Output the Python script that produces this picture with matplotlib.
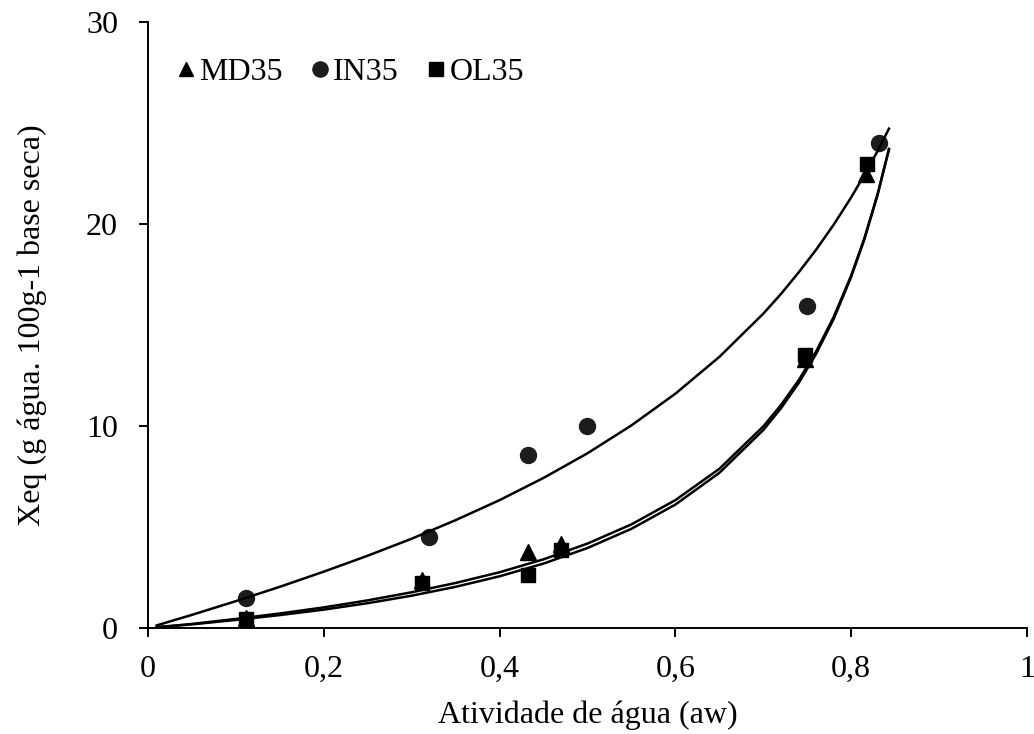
import numpy as np
import matplotlib.pyplot as plt

plt.rcParams['font.family'] = ['Liberation Serif', 'DejaVu Serif']

# ---- Experimental points ----
aw_md = [0.112, 0.312, 0.432, 0.470, 0.747, 0.817]
xeq_md = [0.50, 2.40, 3.75, 4.15, 13.30, 22.50]

aw_in = [0.112, 0.320, 0.432, 0.500, 0.750, 0.832]
xeq_in = [1.50, 4.50, 8.55, 10.00, 15.95, 24.00]

aw_ol = [0.112, 0.312, 0.432, 0.470, 0.747, 0.818]
xeq_ol = [0.45, 2.22, 2.63, 3.84, 13.50, 22.95]

# ---- Fitted curves ----
curve_aw = [0.01, 0.05, 0.10, 0.15, 0.20, 0.25, 0.30, 0.35, 0.40, 0.45, 0.50,
            0.55, 0.60, 0.65, 0.70, 0.72, 0.74, 0.76, 0.78, 0.80, 0.815, 0.83, 0.843]
curve_in = [0.13, 0.65, 1.33, 2.04, 2.79, 3.58, 4.42, 5.34, 6.33, 7.43, 8.65,
            10.03, 11.60, 13.42, 15.56, 16.53, 17.59, 18.72, 19.96, 21.32, 22.43, 23.61, 24.72]
curve_md = [0.04, 0.20, 0.45, 0.72, 1.02, 1.37, 1.77, 2.23, 2.76, 3.40, 4.18,
            5.13, 6.33, 7.88, 9.98, 11.03, 12.25, 13.68, 15.39, 17.45, 19.29, 21.46, 23.71]
curve_ol = [0.035, 0.18, 0.40, 0.64, 0.91, 1.23, 1.60, 2.04, 2.56, 3.19, 3.96,
            4.91, 6.11, 7.68, 9.80, 10.87, 12.11, 13.56, 15.29, 17.38, 19.24, 21.44, 23.71]

# ---- Plotting ----
fig = plt.figure(figsize=(10.34, 7.34), dpi=100)
ax = fig.add_axes([0.1431, 0.1444, 0.8501, 0.8256])

ax.plot(aw_md, xeq_md, '^', color='black', ms=11, label='MD35', zorder=2)
ax.plot(aw_in, xeq_in, 'o', color='#1c1c1c', ms=11.5, label='IN35', zorder=2)
ax.plot(aw_ol, xeq_ol, 's', color='black', ms=10, label='OL35', zorder=2)

ax.plot(curve_aw, curve_in, color='black', lw=1.8, zorder=3)
ax.plot(curve_aw, curve_md, color='black', lw=1.8, zorder=3)
ax.plot(curve_aw, curve_ol, color='black', lw=1.8, zorder=3)

ax.set_xlim(0, 1)
ax.set_ylim(0, 30)
ax.set_xticks([0, 0.2, 0.4, 0.6, 0.8, 1.0])
ax.set_xticklabels(['0', '0,2', '0,4', '0,6', '0,8', '1'])
ax.set_yticks([0, 10, 20, 30])

for s in ['top', 'right']:
    ax.spines[s].set_visible(False)
for s in ['left', 'bottom']:
    ax.spines[s].set_linewidth(1.4)
ax.tick_params(axis='both', direction='out', length=6.5, width=1.4, labelsize=23)
ax.tick_params(axis='x', pad=13)
ax.tick_params(axis='y', pad=15)

ax.set_xlabel('Atividade de água (aw)', fontsize=23, labelpad=11.5)
ax.set_ylabel('Xeq (g água. 100g-1 base seca)', fontsize=23, labelpad=28)

ax.legend(loc='center left', bbox_to_anchor=(0.032, 0.9175), ncol=3, frameon=False,
          fontsize=23, markerscale=0.95, handlelength=0.6, handletextpad=0.12,
          columnspacing=0.86, borderaxespad=0, borderpad=0)

fig.savefig('out.png', dpi=100)
